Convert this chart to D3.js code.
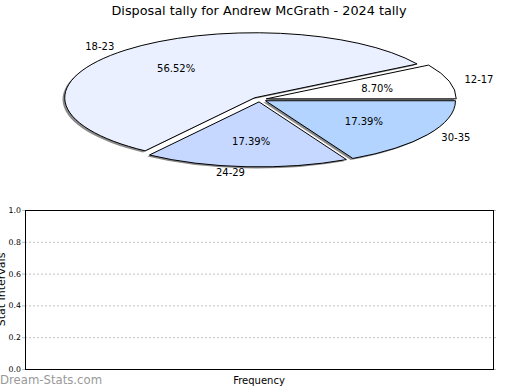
<!DOCTYPE html>
<html><head><meta charset="utf-8">
<script src="https://cdnjs.cloudflare.com/ajax/libs/d3/7.8.5/d3.min.js"></script>
<style>body{margin:0;background:#fff}svg{display:block;font-family:"DejaVu Sans",sans-serif}</style>
</head><body><svg id="c" width="520" height="390"></svg>
<script>
const title = "Disposal tally for Andrew McGrath - 2024 tally";
const categories = ["12-17", "18-23", "24-29", "30-35"];
const counts = [2, 13, 4, 4];
const sliceColors = ["#ffffff", "#eaf0ff", "#c6d8ff", "#b2d4ff"];
const yTicks = [0, 0.2, 0.4, 0.6, 0.8, 1.0];
const yLabel = "Stat Intervals";
const xLabel = "Frequency";
const watermark = "Dream-Stats.com";

const svg = d3.select("#c");
svg.append("rect").attr("width",520).attr("height",390).attr("fill","#fff");

svg.append("text").attr("x",259).attr("y",10).attr("text-anchor","middle")
  .attr("dominant-baseline","central").attr("font-size",12.8).attr("fill","#000").text(title);

// Pie
const cx = 259.5, cy = 99.5, rx = 190, ry = 65, k = ry/rx, explode = 7;
const total = d3.sum(counts);
const pie = d3.pie().sort(null).startAngle(Math.PI/2).endAngle(Math.PI/2 - 2*Math.PI);
const arcs = pie(counts);
const arc = d3.arc().innerRadius(0).outerRadius(rx);
const g = svg.append("g").attr("transform",`translate(${cx},${cy}) scale(1,${k})`);
const mid = a => (a.startAngle + a.endAngle)/2;
// shadows
g.selectAll("path.sh").data(arcs).join("path").attr("class","sh")
  .attr("d",arc)
  .attr("transform",a=>`translate(${explode*Math.sin(mid(a)) - 2.2},${-explode*Math.cos(mid(a)) + 1.6/k})`)
  .attr("fill","#8a8a8a");
g.selectAll("path.sl").data(arcs).join("path").attr("class","sl")
  .attr("d",arc)
  .attr("transform",a=>`translate(${explode*Math.sin(mid(a))},${-explode*Math.cos(mid(a))})`)
  .attr("fill",(a,i)=>sliceColors[i]).attr("stroke","#000").attr("stroke-width",1)
  .attr("vector-effect","non-scaling-stroke").attr("stroke-linejoin","round");

const fmt = v => (v/total*100).toFixed(2) + "%";
svg.selectAll("text.pct").data(arcs).join("text").attr("class","pct")
  .attr("x",a=>cx + 0.62*(rx+explode)*Math.sin(mid(a)))
  .attr("y",a=>cy - 0.62*(ry+explode*k)*Math.cos(mid(a)))
  .attr("text-anchor","middle").attr("dominant-baseline","central")
  .attr("font-size",10).attr("fill","#000").text(a=>fmt(a.value));
svg.selectAll("text.cat").data(arcs).join("text").attr("class","cat")
  .attr("x",a=>cx + 1.12*rx*Math.sin(mid(a)))
  .attr("y",a=>cy - 1.12*ry*Math.cos(mid(a)))
  .attr("text-anchor",a=>Math.sin(mid(a)) < 0 ? "end" : "start")
  .attr("dominant-baseline","central")
  .attr("font-size",10).attr("fill","#000").text((a,i)=>categories[i]);

// Lower chart
const L = 25, R = 493, T = 210, B = 369;
const y = d3.scaleLinear().domain([0,1]).range([B,T]);
svg.append("g").selectAll("line").data(yTicks.filter(t=>t>0 && t<1)).join("line")
  .attr("x1",L).attr("x2",R).attr("y1",d=>y(d)+0.5).attr("y2",d=>y(d)+0.5)
  .attr("stroke","#c0c0c0").attr("stroke-width",1).attr("stroke-dasharray","2,2");
const ax = svg.append("g").attr("transform",`translate(${L},0)`)
  .call(d3.axisLeft(y).tickValues(yTicks).tickFormat(d3.format(".1f")).tickSize(3).tickPadding(1));
ax.select(".domain").remove();
ax.selectAll("line").attr("stroke","#bbb");
ax.selectAll("text").attr("font-size",7.8).attr("fill","#000").attr("font-family","DejaVu Sans");
const axr = svg.append("g").attr("transform",`translate(${R},0)`)
  .call(d3.axisRight(y).tickValues(yTicks).tickFormat("").tickSize(3));
axr.select(".domain").remove();
axr.selectAll("line").attr("stroke","#bbb");
svg.append("rect").attr("x",L+0.5).attr("y",T+0.5).attr("width",R-L).attr("height",B-T)
  .attr("fill","none").attr("stroke","#000").attr("stroke-width",1);

svg.append("text").attr("transform",`translate(5,${(T+B)/2}) rotate(-90)`)
  .attr("text-anchor","middle").attr("font-size",11).attr("fill","#000").text(yLabel);
svg.append("text").attr("x",259).attr("y",380).attr("text-anchor","middle")
  .attr("dominant-baseline","central").attr("font-size",10).attr("fill","#000").text(xLabel);
svg.append("text").attr("x",0).attr("y",380).attr("dominant-baseline","central")
  .attr("font-size",11.7).attr("fill","#999").text(watermark);
</script></body></html>
